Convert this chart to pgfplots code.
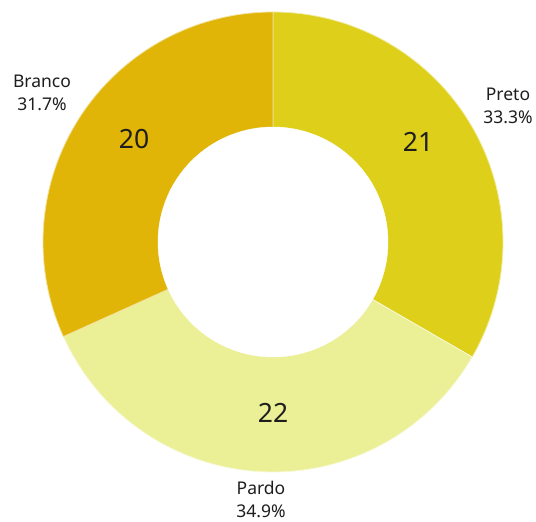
\documentclass[border=0pt]{standalone}
\usepackage{pgfplots}
\pgfplotsset{compat=1.18}
\usepackage{fontspec}
\setmainfont{Noto Sans}
\definecolor{cPreto}{HTML}{DDCF1A}
\definecolor{cPardo}{HTML}{EBEF95}
\definecolor{cBranco}{HTML}{E0B508}
\definecolor{txt}{HTML}{1E1E1E}
% values (counts)
\def\vPreto{21}
\def\vPardo{22}
\def\vBranco{20}
\pgfmathsetmacro{\tot}{\vPreto+\vPardo+\vBranco}
\pgfmathsetmacro{\aA}{90}
\pgfmathsetmacro{\aB}{90-360*\vPreto/\tot}
\pgfmathsetmacro{\aC}{\aB-360*\vPardo/\tot}
\pgfmathsetmacro{\aD}{\aC-360*\vBranco/\tot}
\begin{document}
\begin{tikzpicture}
\begin{axis}[
  scale only axis, width=536bp, height=522bp,
  xmin=0, xmax=536, ymin=0, ymax=522,
  hide axis, clip=false,
  samples=120,
]
\addplot[fill=cPreto, draw=white!60!cPreto, line width=0.8bp, domain=\aB:\aA, variable=\t]
  ({273+230*cos(\t)},{280+230*sin(\t)}) -- (axis cs:273,280) -- cycle;
\addplot[fill=cPardo, draw=white!60!cPardo, line width=0.8bp, domain=\aC:\aB, variable=\t]
  ({273+230*cos(\t)},{280+230*sin(\t)}) -- (axis cs:273,280) -- cycle;
\addplot[fill=cBranco, draw=white!60!cBranco, line width=0.8bp, domain=\aD:\aC, variable=\t]
  ({273+230*cos(\t)},{280+230*sin(\t)}) -- (axis cs:273,280) -- cycle;
\addplot[fill=white, draw=white, domain=0:360, variable=\t, samples=180]
  ({273+115*cos(\t)},{280+115*sin(\t)}) -- cycle;
% value labels
\node[text=txt, font=\fontsize{26.5bp}{30bp}\selectfont] at (axis cs:418,380) {21};
\node[text=txt, font=\fontsize{26.5bp}{30bp}\selectfont] at (axis cs:273,109) {22};
\node[text=txt, font=\fontsize{26.5bp}{30bp}\selectfont] at (axis cs:134,383) {20};
% category labels
\node[text=txt, align=center, font=\fontsize{17.5bp}{23bp}\selectfont] at (axis cs:508,416) {Preto\\33.3\%};
\node[text=txt, align=center, font=\fontsize{17.5bp}{23bp}\selectfont] at (axis cs:261,23) {Pardo\\34.9\%};
\node[text=txt, align=center, font=\fontsize{17.5bp}{23bp}\selectfont] at (axis cs:42,429) {Branco\\31.7\%};
\end{axis}
\path (current axis.south west) rectangle (current axis.north east);
\end{tikzpicture}
\end{document}
